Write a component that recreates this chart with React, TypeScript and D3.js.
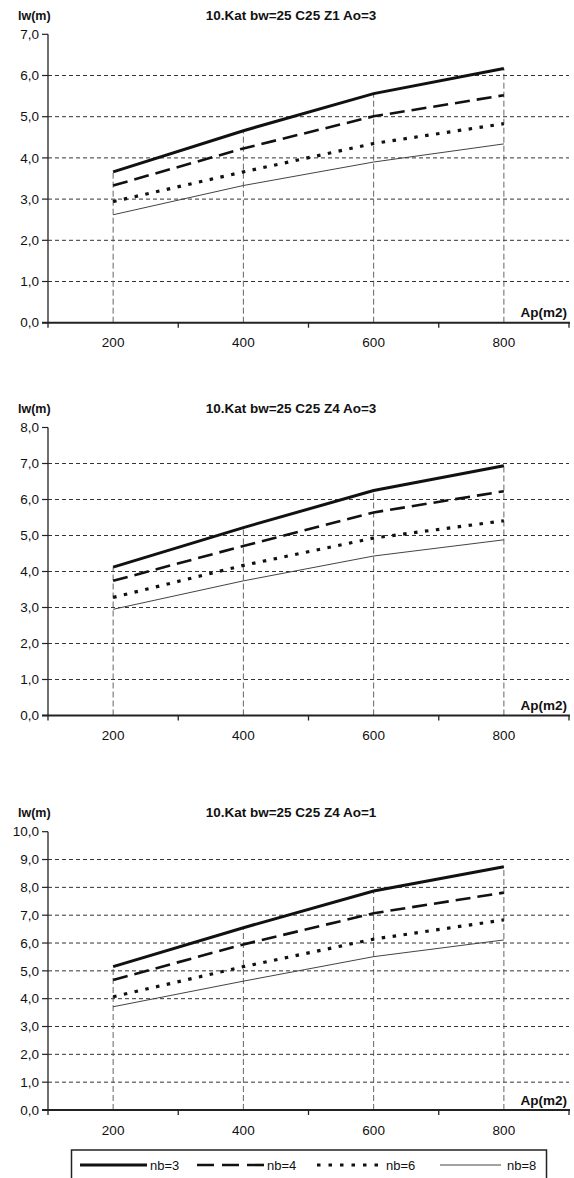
import React from "react";
import * as d3 from "d3";

// ---- data ----
const categories = ["200", "400", "600", "800"];
const seriesNames = ["nb=3", "nb=4", "nb=6", "nb=8"];
const titles = ["10.Kat bw=25 C25 Z1 Ao=3", "10.Kat bw=25 C25 Z4 Ao=3", "10.Kat bw=25 C25 Z4 Ao=1"];
const yMaxes = [7, 8, 10];

const z1ao3_nb3 = [3.66, 4.66, 5.56, 6.17];
const z1ao3_nb4 = [3.33, 4.23, 5.01, 5.52];
const z1ao3_nb6 = [2.94, 3.66, 4.35, 4.83];
const z1ao3_nb8 = [2.62, 3.33, 3.9, 4.34];

const z4ao3_nb3 = [4.12, 5.22, 6.25, 6.94];
const z4ao3_nb4 = [3.74, 4.71, 5.64, 6.23];
const z4ao3_nb6 = [3.28, 4.17, 4.93, 5.41];
const z4ao3_nb8 = [2.95, 3.74, 4.43, 4.88];

const z4ao1_nb3 = [5.15, 6.55, 7.87, 8.74];
const z4ao1_nb4 = [4.67, 5.95, 7.07, 7.81];
const z4ao1_nb6 = [4.07, 5.15, 6.14, 6.83];
const z4ao1_nb8 = [3.71, 4.63, 5.51, 6.11];

const panelSeries = [
  [z1ao3_nb3, z1ao3_nb4, z1ao3_nb6, z1ao3_nb8],
  [z4ao3_nb3, z4ao3_nb4, z4ao3_nb6, z4ao3_nb8],
  [z4ao1_nb3, z4ao1_nb4, z4ao1_nb6, z4ao1_nb8],
];

// ---- layout / style ----
const FONT = "'Liberation Sans', Arial, sans-serif";
const PLOT_LEFT = 48;
const PLOT_RIGHT = 569;
const panelLayout = [
  { top: 34.3, bottom: 322.7 },
  { top: 427.5, bottom: 715.5 },
  { top: 831.7, bottom: 1110 },
];
const seriesStyle = [
  { width: 3, dash: "none", color: "#111" },
  { width: 2.6, dash: "15,7", color: "#111" },
  { width: 3.2, dash: "3.5,7.5", color: "#111" },
  { width: 1, dash: "none", color: "#444" },
];
const legendDash = ["none", "17,8", "3.5,8", "none"];

const fmt = (v: number) => d3.format(".1f")(v).replace(".", ",");

function Panel({ idx }: { idx: number }) {
  const { top, bottom } = panelLayout[idx];
  const yMax = yMaxes[idx];
  const data = panelSeries[idx];
  const x = d3.scaleBand().domain(categories).range([PLOT_LEFT, PLOT_RIGHT]).padding(0);
  const cx = (c: string) => (x(c) as number) + x.bandwidth() / 2;
  const y = d3.scaleLinear().domain([0, yMax]).range([bottom, top]);
  const yTicks = d3.range(0, yMax + 0.001, 1);
  const line = d3
    .line<number>()
    .x((_, i) => cx(categories[i]))
    .y((d) => y(d));
  const topSeries = data[0];
  const boundaries = [...categories.map((c) => x(c) as number), PLOT_RIGHT];

  return (
    <g>
      {/* title and axis names */}
      <text x={18} y={top - 19} dy="0.35em" fontFamily={FONT} fontSize={12.5} fontWeight="bold" fill="#111">
        lw(m)
      </text>
      <text x={291} y={top - 19} dy="0.35em" textAnchor="middle" fontFamily={FONT} fontSize={13.5} fontWeight="bold" fill="#111">
        {titles[idx]}
      </text>
      <text x={567} y={bottom - 10} dy="0.35em" textAnchor="end" fontFamily={FONT} fontSize={13.5} fontWeight="bold" fill="#111">
        Ap(m2)
      </text>

      {/* horizontal gridlines */}
      {yTicks
        .filter((t) => t > 0 && t < yMax)
        .map((t) => (
          <line key={"g" + t} x1={PLOT_LEFT} x2={PLOT_RIGHT} y1={y(t)} y2={y(t)} stroke="#333" strokeWidth={1} strokeDasharray="4,3" />
        ))}

      {/* vertical drop lines */}
      {categories.map((c, i) => (
        <line key={"v" + c} x1={cx(c)} x2={cx(c)} y1={bottom} y2={y(topSeries[i])} stroke="#555" strokeWidth={0.9} strokeDasharray="6,3" />
      ))}

      {/* y axis */}
      <line x1={PLOT_LEFT} x2={PLOT_LEFT} y1={top} y2={bottom} stroke="#222" strokeWidth={1.3} />
      {yTicks.map((t) => (
        <g key={"yt" + t}>
          <line x1={PLOT_LEFT - 6} x2={PLOT_LEFT} y1={y(t)} y2={y(t)} stroke="#222" strokeWidth={1.2} />
          <text x={39} y={y(t)} dy="0.35em" textAnchor="end" fontFamily={FONT} fontSize={13.5} fill="#111">
            {fmt(t)}
          </text>
        </g>
      ))}

      {/* x axis */}
      <line x1={PLOT_LEFT - 6} x2={PLOT_RIGHT + 1} y1={bottom} y2={bottom} stroke="#222" strokeWidth={2} />
      {boundaries.map((b, i) => (
        <line key={"xt" + i} x1={b} x2={b} y1={bottom} y2={bottom + 5} stroke="#222" strokeWidth={1.3} />
      ))}
      {categories.map((c) => (
        <text key={"xl" + c} x={cx(c)} y={bottom + 20} dy="0.35em" textAnchor="middle" fontFamily={FONT} fontSize={13.5} fill="#111">
          {c}
        </text>
      ))}

      {/* series */}
      {data.map((s, si) => (
        <path
          key={"s" + si}
          d={line(s) as string}
          fill="none"
          stroke={seriesStyle[si].color}
          strokeWidth={seriesStyle[si].width}
          strokeDasharray={seriesStyle[si].dash}
        />
      ))}
    </g>
  );
}

function Legend() {
  const items = [
    { x1: 80, x2: 147, tx: 150 },
    { x1: 197, x2: 264, tx: 267 },
    { x1: 317, x2: 378, tx: 386 },
    { x1: 440, x2: 501, tx: 507 },
  ];
  const ly = 1165;
  return (
    <g>
      <rect x={71.5} y={1150} width={475} height={40} fill="none" stroke="#222" strokeWidth={1.5} />
      {seriesNames.map((n, i) => (
        <g key={n}>
          <line
            x1={items[i].x1}
            x2={items[i].x2}
            y1={ly}
            y2={ly}
            stroke={seriesStyle[i].color}
            strokeWidth={seriesStyle[i].width}
            strokeDasharray={legendDash[i]}
          />
          <text x={items[i].tx} y={ly} dy="0.35em" fontFamily={FONT} fontSize={13} fill="#111">
            {n}
          </text>
        </g>
      ))}
    </g>
  );
}

export default function App() {
  return (
    <svg
      width={574}
      height={1178}
      viewBox="0 0 574 1178"
      style={{ position: "absolute", left: 0, top: 0, background: "#fff" }}
    >
      <rect x={0} y={0} width={574} height={1178} fill="#fff" />
      {[0, 1, 2].map((i) => (
        <Panel key={i} idx={i} />
      ))}
      <Legend />
    </svg>
  );
}
